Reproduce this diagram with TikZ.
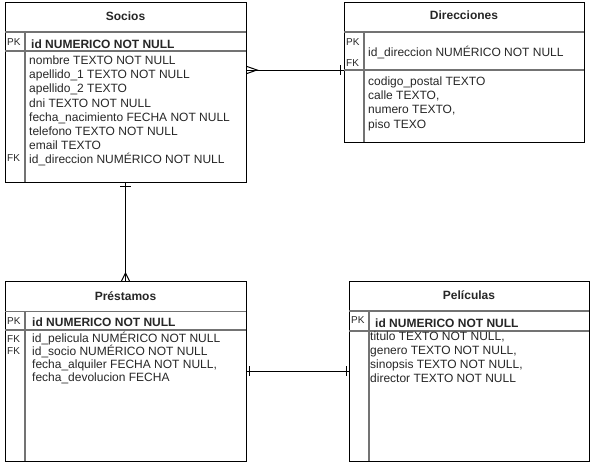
\documentclass[tikz,border=0pt]{standalone}
\usepackage{fontspec}
\setmainfont{Liberation Sans}
\usetikzlibrary{positioning,calc}
\colorlet{txtGray}{black!85}
\colorlet{sepGray}{black!55}

\begin{document}
\begin{tikzpicture}[x=1pt, y=-1pt,
    every node/.style={text=txtGray, inner sep=0pt, font=\fontsize{12}{14.2}\selectfont},
    tbl/.style={draw=black, line width=1pt, anchor=north west, outer sep=0pt},
    tbltitle/.style={font=\fontsize{12}{14.4}\selectfont\bfseries, anchor=base},
    keylabel/.style={font=\fontsize{10}{12}\selectfont, anchor=base west},
    pkrow/.style={font=\fontsize{12}{14.4}\selectfont\bfseries, anchor=base west},
    rows/.style={anchor=north west, align=left},
    rowline/.style={draw=sepGray, line width=1.2pt},
    conn/.style={draw=black, line width=1pt}]
    \useasboundingbox (0,0) rectangle (603,464);

    % Table boxes
    \node[tbl, minimum width=241pt, minimum height=180pt] (socios) at (5,2) {};
    \node[tbl, minimum width=240pt, minimum height=140pt] (direcciones) at (344,2) {};
    \node[tbl, minimum width=241pt, minimum height=180pt] (prestamos) at (5,281) {};
    \node[tbl, minimum width=240pt, minimum height=180pt] (peliculas) at (349,281) {};

    % Socios
    \draw[rowline] (5,32) -- (246,32);
    \draw[rowline] (5,51) -- (246,51);
    \draw[rowline] (25,32) -- (25,182);
    \node[tbltitle] (sociosTitle) at (125.5,20.3) {Socios};
    \node[keylabel] (sociosPK) at (7,45.9) {PK};
    \node[pkrow] (sociosId) at (31,48) {id NUMERICO NOT NULL};
    \node[rows] (sociosRows) at (29,52.3) {\rule{0pt}{12pt}nombre TEXTO NOT NULL\\
        apellido\_1 TEXTO NOT NULL\\
        apellido\_2 TEXTO\\
        dni TEXTO NOT NULL\\
        fecha\_nacimiento FECHA NOT NULL\\
        telefono TEXTO NOT NULL\\
        email TEXTO\\
        id\_direccion NUMÉRICO NOT NULL};
    \node[keylabel] (sociosFK) at (7,161) {FK};

    % Direcciones
    \draw[rowline] (344,32) -- (584,32);
    \draw[rowline] (344,70) -- (584,70);
    \draw[rowline] (364,32) -- (364,142);
    \node[tbltitle] (direccionesTitle) at (464,19.8) {Direcciones};
    \node[keylabel] (direccionesPK) at (346,45.6) {PK};
    \node[keylabel] (direccionesFK) at (346,66.6) {FK};
    \node[anchor=base west] (direccionesId) at (368,56.8) {id\_direccion NUMÉRICO NOT NULL};
    \node[rows] (direccionesRows) at (368,73.3) {\rule{0pt}{12pt}codigo\_postal TEXTO\\
        calle TEXTO,\\
        numero TEXTO,\\
        piso TEXO};

    % Préstamos
    \draw[rowline] (5,311.5) -- (246,311.5);
    \draw[rowline] (5,330) -- (246,330);
    \draw[rowline] (25,311.5) -- (25,461);
    \node[tbltitle] (prestamosTitle) at (125.5,300.3) {Préstamos};
    \node[keylabel] (prestamosPK) at (7,324.3) {PK};
    \node[keylabel] (prestamosFK1) at (7,342) {FK};
    \node[keylabel] (prestamosFK2) at (7,354.3) {FK};
    \node[pkrow] (prestamosId) at (32,326.5) {id NUMERICO NOT NULL};
    \node[rows, font=\fontsize{12}{13}\selectfont] (prestamosRows) at (32,330.3)
        {\rule{0pt}{12pt}id\_pelicula NUMÉRICO NOT NULL\\
        id\_socio NUMÉRICO NOT NULL\\
        fecha\_alquiler FECHA NOT NULL,\\
        fecha\_devolucion FECHA};

    % Películas
    \draw[rowline] (349,311) -- (589,311);
    \draw[rowline] (349,331) -- (589,331);
    \draw[rowline] (369,311) -- (369,461);
    \node[tbltitle] (peliculasTitle) at (469,299.3) {Películas};
    \node[keylabel] (peliculasPK) at (351,323.6) {PK};
    \node[pkrow] (peliculasId) at (375,327.1) {id NUMERICO NOT NULL};
    \node[rows, font=\fontsize{12}{14}\selectfont] (peliculasRows) at (370,328.3)
        {\rule{0pt}{12pt}titulo TEXTO NOT NULL,\\
        genero TEXTO NOT NULL,\\
        sinopsis TEXTO NOT NULL,\\
        director TEXTO NOT NULL};

    % Relations
    \coordinate (dirLink) at (344,70);
    \draw[conn] (socios.east |- dirLink) -- (dirLink);
    \draw[conn] (socios.south) -- (prestamos.north);
    \draw[conn] (prestamos.east) -- (peliculas.west);

    % Cardinality marks
    \draw[conn] ($(socios.east |- dirLink)+(1,-3.5)$) -- ($(socios.east |- dirLink)+(11,0)$)
        -- ($(socios.east |- dirLink)+(1,3.5)$);
    \draw[conn] ($(dirLink)+(-4,-5)$) -- ($(dirLink)+(-4,5)$);
    \draw[conn] ($(socios.south)+(-5.5,4)$) -- ($(socios.south)+(5.5,4)$);
    \draw[conn] ($(prestamos.north)+(-4,0)$) -- ($(prestamos.north)+(0,-8)$)
        -- ($(prestamos.north)+(4,0)$);
    \draw[conn] ($(prestamos.east)+(3,-5)$) -- ($(prestamos.east)+(3,5)$);
    \draw[conn] ($(peliculas.west)+(-3,-5)$) -- ($(peliculas.west)+(-3,5)$);
\end{tikzpicture}
\end{document}
